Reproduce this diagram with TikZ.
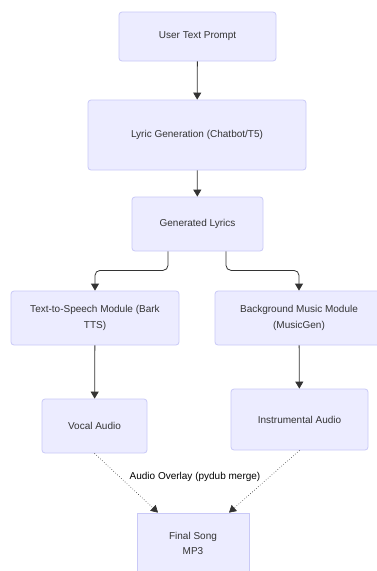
\documentclass[tikz,border=0pt]{standalone}
\usepackage{fontspec}
\setmainfont{Liberation Sans}
\usetikzlibrary{arrows.meta,calc}
\definecolor{boxfill}{HTML}{ECECFF}
\definecolor{boxdraw}{HTML}{C9C9F7}
\definecolor{edgec}{HTML}{333333}
\definecolor{txt}{HTML}{333333}
\begin{document}
\begin{tikzpicture}[x=1pt,y=-1pt,
  box/.style={draw=boxdraw,fill=boxfill,line width=0.8pt,rounded corners=3pt,
    text=txt,align=center,inner sep=0pt,font=\fontsize{10}{15.5}\selectfont},
  edge/.style={draw=edgec,line width=0.8pt,-{Triangle[length=7pt,width=8pt]}},
  dotedge/.style={draw=edgec,line width=0.6pt,dotted,-{Triangle[length=7pt,width=8pt]}}]
\useasboundingbox (0,0) rectangle (377,571);
\clip (0,0) rectangle (377,571);
\fill[white] (0,0) rectangle (377,571);
\node[box,minimum width=157pt,minimum height=49pt] (prompt) at (197.5,36.5) {User Text Prompt};
\node[box,minimum width=218pt,minimum height=70pt] (lyricgen) at (197,135) {Lyric Generation (Chatbot/T5)};
\node[box,minimum width=131pt,minimum height=54pt] (lyrics) at (197.5,224) {Generated Lyrics};
\node[box,minimum width=168pt,minimum height=54pt] (tts) at (95,318) {Text-to-Speech Module (Bark\\TTS)};
\node[box,minimum width=168pt,minimum height=54pt] (bgm) at (299,318) {Background Music Module\\(MusicGen)};
\node[box,minimum width=105pt,minimum height=54pt] (vocal) at (94.5,426) {Vocal Audio};
\node[box,minimum width=137pt,minimum height=61pt] (instr) at (299.5,419.5) {Instrumental Audio};
\node[box,rounded corners=0pt,minimum width=112pt,minimum height=61pt] (final) at (193,543.5) {Final Song\\MP3};
\draw[edge] (prompt) -- (lyricgen);
\draw[edge] (lyricgen) -- (lyrics);
\draw[edge,rounded corners=5pt] ([xshift=-29.5pt]lyrics.south) -- ++(0,19) -| (tts.north);
\draw[edge,rounded corners=5pt] ([xshift=28.5pt]lyrics.south) -- ++(0,19) -| (bgm.north);
\draw[edge] (tts) -- (vocal);
\draw[edge] (bgm) -- (instr);
\draw[dotedge] (vocal.south) -- ([xshift=-35pt]final.north);
\draw[dotedge] (instr.south) -- ([xshift=36pt]final.north);
\node[text=black,font=\fontsize{10}{12}\selectfont] (lbl) at (195,477) {Audio Overlay (pydub merge)};
\end{tikzpicture}
\end{document}
